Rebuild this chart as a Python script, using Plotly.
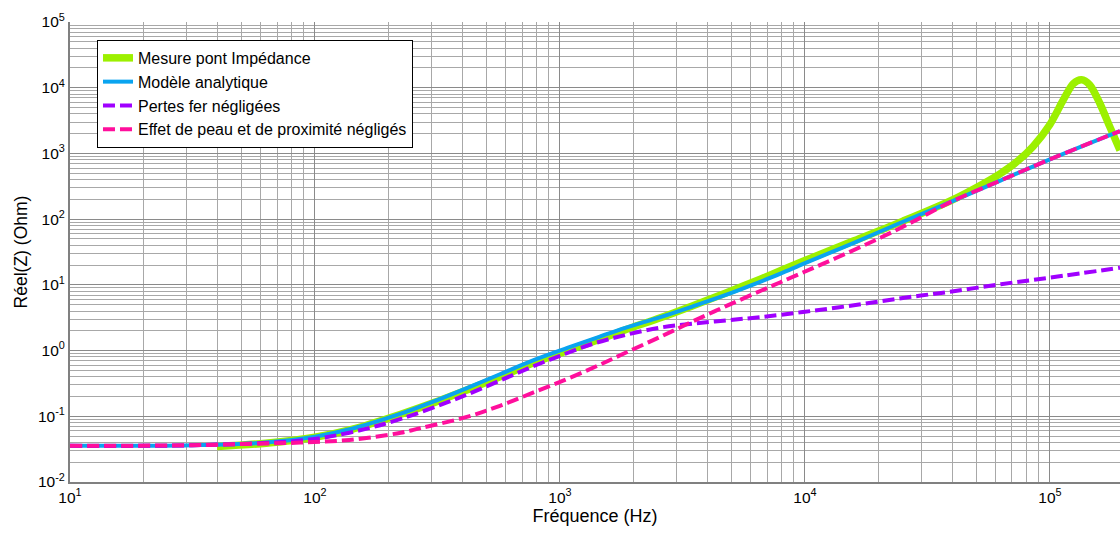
import plotly.graph_objects as go

# Frequencies (Hz) as log10 values and Re(Z) (Ohm) as log10 values
mesure_logf = [1.60, 1.80, 2.00, 2.15, 2.35, 2.48, 2.62, 2.755, 2.89, 3.03, 3.16, 3.27, 3.41, 3.54, 3.68, 3.82,
               4.00, 4.20, 4.40, 4.60, 4.728, 4.796, 4.864, 4.932, 5.00, 5.054, 5.095, 5.129, 5.163, 5.204, 5.245, 5.286]
mesure_logz = [-1.46, -1.41, -1.32, -1.20, -0.97, -0.80, -0.60, -0.40, -0.19, 0.00, 0.17, 0.32, 0.50, 0.68, 0.88, 1.09,
               1.37, 1.67, 1.97, 2.29, 2.54, 2.69, 2.87, 3.11, 3.44, 3.81, 4.06, 4.12, 4.04, 3.76, 3.40, 3.05]

modele_logf = [1.0, 1.5, 1.8, 2.0, 2.15, 2.35, 2.48, 2.62, 2.755, 2.89, 3.03, 3.16, 3.27, 3.41, 3.54, 3.68, 3.82,
               3.90, 4.00, 4.20, 4.40, 4.60, 4.80, 5.00, 5.286]
modele_logz = [-1.45, -1.44, -1.40, -1.31, -1.19, -0.96, -0.78, -0.57, -0.36, -0.15, 0.04, 0.21, 0.35, 0.51, 0.67,
               0.85, 1.05, 1.17, 1.33, 1.64, 1.96, 2.27, 2.59, 2.91, 3.34]

fer_logf = [1.0, 1.5, 1.94, 2.14, 2.35, 2.62, 2.89, 3.00, 3.14, 3.27, 3.41, 3.54, 3.68, 3.82, 4.00, 4.20, 4.40,
            4.60, 4.80, 5.00, 5.286]
fer_logz = [-1.45, -1.44, -1.37, -1.25, -1.04, -0.67, -0.24, -0.08, 0.11, 0.24, 0.35, 0.41, 0.46, 0.51, 0.59,
            0.69, 0.80, 0.90, 1.01, 1.11, 1.26]

peau_logf = [1.0, 1.5, 1.73, 1.94, 2.14, 2.35, 2.43, 2.62, 2.755, 2.89, 3.03, 3.16, 3.27, 3.41, 3.54, 3.68, 3.82,
             3.90, 4.03, 4.17, 4.31, 4.44, 4.60, 4.80, 5.00, 5.286]
peau_logz = [-1.45, -1.44, -1.42, -1.40, -1.36, -1.25, -1.18, -1.01, -0.84, -0.64, -0.43, -0.22, -0.03, 0.21, 0.44,
             0.68, 0.91, 1.04, 1.25, 1.48, 1.72, 1.96, 2.27, 2.59, 2.91, 3.34]

x_tickvals = [10, 100, 1000, 10000, 100000]
x_ticktext = ["10<sup>1</sup>", "10<sup>2</sup>", "10<sup>3</sup>", "10<sup>4</sup>", "10<sup>5</sup>"]
y_tickvals = [0.01, 0.1, 1, 10, 100, 1000, 10000, 100000]
y_ticktext = ["10<sup>-2</sup>", "10<sup>-1</sup>", "10<sup>0</sup>", "10<sup>1</sup>", "10<sup>2</sup>",
              "10<sup>3</sup>", "10<sup>4</sup>", "10<sup>5</sup>"]

names = ["Mesure pont Impédance", "Modèle analytique", "Pertes fer négligées",
         "Effet de peau et de proximité négligés"]


def pw(v):
    return [10 ** a for a in v]


fig = go.Figure()
fig.add_trace(go.Scatter(x=pw(mesure_logf), y=pw(mesure_logz), mode="lines", name=names[0],
                         line=dict(color="#9cf000", width=7.5, shape="spline", smoothing=0.8)))
fig.add_trace(go.Scatter(x=pw(modele_logf), y=pw(modele_logz), mode="lines", name=names[1],
                         line=dict(color="#0aa4f0", width=4, shape="spline")))
fig.add_trace(go.Scatter(x=pw(fer_logf), y=pw(fer_logz), mode="lines", name=names[2],
                         line=dict(color="#a000ff", width=4, dash="12px,5px", shape="spline")))
fig.add_trace(go.Scatter(x=pw(peau_logf), y=pw(peau_logz), mode="lines", name=names[3],
                         line=dict(color="#ff0f9c", width=4, dash="12px,5px", shape="spline")))

grid = "#8a8a8a"
fig.update_layout(
    width=1120, height=533,
    margin=dict(l=70, r=0, t=22, b=51),
    paper_bgcolor="white", plot_bgcolor="white",
    font=dict(family="Liberation Sans, Arial, sans-serif", size=16, color="black"),
    legend=dict(x=0.0257, y=0.961, xanchor="left", yanchor="top", bgcolor="white",
                bordercolor="black", borderwidth=1, font=dict(size=16), tracegroupgap=0),
    xaxis=dict(type="log", range=[1, 5.286], tickvals=x_tickvals, ticktext=x_ticktext,
               showgrid=True, gridcolor=grid, gridwidth=1,
               minor=dict(showgrid=True, gridcolor="#a8a8a8", gridwidth=1, dtick="D1"),
               showline=True, linecolor="#808080", linewidth=2, ticks="",
               zeroline=False, title=dict(text="Fréquence (Hz)", standoff=4, font=dict(size=18)),
               tickfont=dict(size=15.5)),
    yaxis=dict(type="log", range=[-2, 5], tickvals=y_tickvals, ticktext=y_ticktext,
               showgrid=True, gridcolor=grid, gridwidth=1,
               minor=dict(showgrid=True, gridcolor="#a8a8a8", gridwidth=1, dtick="D1"),
               showline=True, linecolor="#808080", linewidth=2, ticks="", mirror=False,
               zeroline=False, title=dict(text="Réel(Z) (Ohm)", standoff=6, font=dict(size=17.5)),
               tickfont=dict(size=15.5)),
)

fig.write_html("out.html", config={"displayModeBar": False},
               post_script="document.body.style.margin='0';document.body.style.overflow='hidden';")
